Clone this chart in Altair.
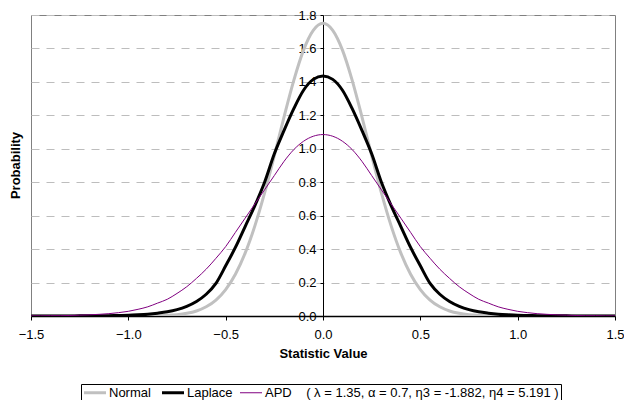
import altair as alt
import pandas as pd

# Statistic values (x) shared by all three density curves
x_vals = [
    -1.50, -1.45, -1.40, -1.35, -1.30, -1.25, -1.20, -1.15, -1.10, -1.05,
    -1.00, -0.95, -0.90, -0.85, -0.80, -0.75, -0.70, -0.65, -0.60, -0.55,
    -0.50, -0.45, -0.40, -0.35, -0.30, -0.25, -0.20, -0.15, -0.10, -0.05,
    0.00,
    0.05, 0.10, 0.15, 0.20, 0.25, 0.30, 0.35, 0.40, 0.45, 0.50,
    0.55, 0.60, 0.65, 0.70, 0.75, 0.80, 0.85, 0.90, 0.95, 1.00,
    1.05, 1.10, 1.15, 1.20, 1.25, 1.30, 1.35, 1.40, 1.45, 1.50,
]

normal_vals = [
    0, 0, 0, 0, 0, 0, 0, 0, 0, 0,
    0, 0.0005, 0.001, 0.002, 0.004, 0.008, 0.016, 0.030, 0.055, 0.095,
    0.158, 0.250, 0.376, 0.539, 0.736, 0.959, 1.191, 1.409, 1.590, 1.708,
    1.750,
    1.708, 1.590, 1.409, 1.191, 0.959, 0.736, 0.539, 0.376, 0.250, 0.158,
    0.095, 0.055, 0.030, 0.016, 0.008, 0.004, 0.002, 0.001, 0.0005, 0,
    0, 0, 0, 0, 0, 0, 0, 0, 0, 0,
]

laplace_vals = [
    0, 0, 0, 0, 0, 0.001, 0.001, 0.001, 0.002, 0.003,
    0.004, 0.007, 0.011, 0.017, 0.025, 0.038, 0.058, 0.087, 0.130, 0.195,
    0.300, 0.410, 0.535, 0.660, 0.800, 0.970, 1.110, 1.240, 1.350, 1.415,
    1.435,
    1.415, 1.350, 1.240, 1.110, 0.970, 0.800, 0.660, 0.535, 0.410, 0.300,
    0.195, 0.130, 0.087, 0.058, 0.038, 0.025, 0.017, 0.011, 0.007, 0.004,
    0.003, 0.002, 0.001, 0.001, 0.001, 0, 0, 0, 0, 0,
]

apd_vals = [
    0.001, 0.001, 0.002, 0.002, 0.003, 0.005, 0.007, 0.010, 0.014, 0.020,
    0.028, 0.040, 0.055, 0.077, 0.100, 0.135, 0.175, 0.225, 0.280, 0.345,
    0.415, 0.500, 0.585, 0.670, 0.755, 0.840, 0.925, 0.995, 1.045, 1.075,
    1.085,
    1.075, 1.045, 0.995, 0.925, 0.840, 0.755, 0.670, 0.585, 0.500, 0.415,
    0.345, 0.280, 0.225, 0.175, 0.135, 0.100, 0.077, 0.055, 0.040, 0.028,
    0.020, 0.014, 0.010, 0.007, 0.005, 0.003, 0.002, 0.002, 0.001, 0.001,
]

# non-breaking spaces keep the wide gap after "APD" in the legend label
series_names = [
    "Normal",
    "Laplace",
    "APD\u00a0\u00a0\u00a0\u00a0( λ = 1.35, α = 0.7, η3 = -1.882, η4 = 5.191 )",
]
series_colors = ["#c0c0c0", "#000000", "#800080"]

x_ticks = [-1.5, -1.0, -0.5, 0.0, 0.5, 1.0, 1.5]
y_ticks = [0.0, 0.2, 0.4, 0.6, 0.8, 1.0, 1.2, 1.4, 1.6, 1.8]

rows = []
for name, vals in zip(series_names, [normal_vals, laplace_vals, apd_vals]):
    for xv, yv in zip(x_vals, vals):
        rows.append({"x": xv, "y": yv, "series": name})
df = pd.DataFrame(rows)

PLOT_W = 584
PLOT_H = 301
FONT = "Liberation Sans"
APD = series_names[2]

# thin line for the APD curve, heavy lines for the two reference densities
thin_test = f"datum.series === '{APD}'"
legend_width = {"expr": f"datum.value === '{APD}' ? 1 : 3"}

lines = alt.Chart(df).mark_line(interpolate="monotone", clip=True).encode(
    x=alt.X(
        "x:Q",
        scale=alt.Scale(domain=[-1.5, 1.5], nice=False, zero=False),
        axis=alt.Axis(
            values=x_ticks, format=".1f", title="Statistic Value",
            grid=False, tickSize=4, labelPadding=8, titlePadding=6,
            labelFlush=False, labelOverlap=False,
            domainColor="#000000", domainWidth=1.5, tickColor="#000000",
        ),
    ),
    y=alt.Y(
        "y:Q",
        scale=alt.Scale(domain=[0, 1.8], nice=False),
        axis=alt.Axis(
            values=y_ticks, format=".1f", title=None,
            offset=-(PLOT_W / 2), grid=True, gridDash=[8, 7],
            gridColor="#bdbdbd", tickSize=3, labelPadding=4,
            labelFlush=False, labelOverlap=False,
            domainColor="#000000", tickColor="#000000",
        ),
    ),
    color=alt.Color(
        "series:N",
        scale=alt.Scale(domain=series_names, range=series_colors),
        title=None,
        legend=alt.Legend(
            orient="none", legendX=50, legendY=369, direction="horizontal",
            symbolType="M-1,0H3", symbolSize=121,
            symbolStrokeWidth=legend_width, symbolFillColor="transparent",
            columnPadding=5, labelOffset=13, padding=2,
            strokeColor="#000000", fillColor="#ffffff",
            labelFontSize=13, labelFont=FONT, labelColor="#000000",
            labelLimit=500,
        ),
    ),
    strokeWidth=alt.condition(thin_test, alt.value(1), alt.value(3)),
)

y_title = alt.Chart(pd.DataFrame({"t": ["Probability"]})).mark_text(
    angle=270, fontSize=13, fontWeight="bold", font=FONT, color="#000000",
    align="center", baseline="middle",
).encode(
    text="t:N",
    x=alt.value(-15),
    y=alt.value(PLOT_H / 2),
)

chart = alt.layer(lines, y_title).properties(
    width=PLOT_W,
    height=PLOT_H,
    autosize=alt.AutoSizeParams(type="none"),
    padding={"left": 31, "top": 15, "right": 9, "bottom": 84},
    background="#ffffff",
).configure_view(
    stroke="#808080", strokeWidth=1,
).configure_axis(
    labelFont=FONT, labelFontSize=13, labelColor="#000000",
    titleFont=FONT, titleFontSize=13, titleFontWeight="bold", titleColor="#000000",
)

chart.save("out.html", embed_options={"renderer": "svg", "actions": False})
